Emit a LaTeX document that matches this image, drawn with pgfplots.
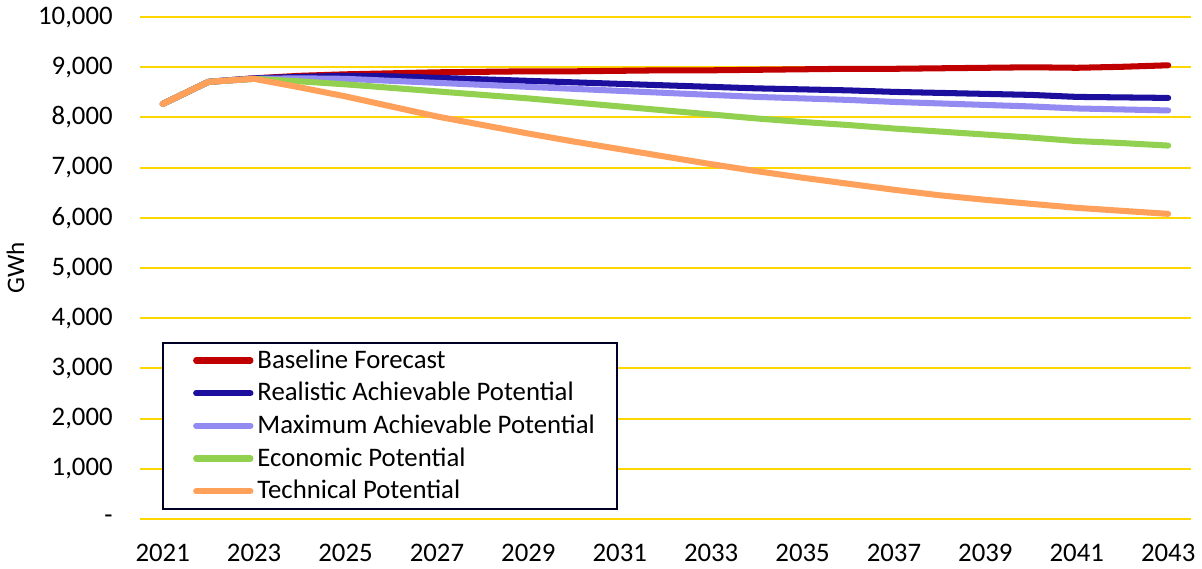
\documentclass[border=0pt]{standalone}
\usepackage{pgfplots}
\pgfplotsset{compat=1.18}
\usepackage{fontspec}
\setmainfont{Carlito}

\definecolor{baseRed}{HTML}{C00000}
\definecolor{realBlue}{HTML}{1C0F9E}
\definecolor{maxPurple}{HTML}{948BF2}
\definecolor{econGreen}{HTML}{92D050}
\definecolor{techOrange}{HTML}{FFA15A}
\definecolor{gridGold}{HTML}{FFD700}

\begin{document}
\begin{tikzpicture}
\begin{axis}[
    scale only axis,
    width=522.5pt, height=249.5pt,
    xmin=2020.5, xmax=2043.5,
    ymin=0, ymax=10000,
    axis line style={draw=none},
    ymajorgrids,
    grid style={gridGold, line width=1pt},
    major tick length=0pt,
    scaled y ticks=false,
    xtick={2021,2023,...,2043},
    ytick={0,1000,...,10000},
    yticklabels={-,{1,000},{2,000},{3,000},{4,000},{5,000},{6,000},{7,000},{8,000},{9,000},{10,000}},
    x tick label style={/pgf/number format/1000 sep={}, /pgf/number format/assume math mode=true, yshift=-9pt},
    y tick label style={xshift=-10pt},
    tick label style={font=\fontsize{13.3}{15}\selectfont},
    ylabel={GWh},
    ylabel style={font=\fontsize{12.5}{14}\selectfont, yshift=0pt},
    legend style={at={(0.021,0.018)}, anchor=south west,
        draw=black!85!blue, line width=1pt,
        font=\fontsize{13.3}{15}\selectfont,
        inner xsep=9pt, inner ysep=1.5pt,
        row sep=1.5pt,
        cells={anchor=west}},
    legend image code/.code={\path (0pt,0pt); \draw[#1, line width=3pt, line cap=round] (6pt,0pt) -- (33pt,0pt);},
    every axis plot/.append style={line width=3pt, line join=round, line cap=round},
]
\addplot[baseRed] coordinates {
(2021,8270) (2022,8710) (2023,8780) (2024,8830) (2025,8860) (2026,8880)
(2027,8900) (2028,8910) (2029,8920) (2030,8920) (2031,8930) (2032,8940)
(2033,8940) (2034,8950) (2035,8960) (2036,8970) (2037,8970) (2038,8980)
(2039,8990) (2040,9000) (2041,8990) (2042,9010) (2043,9040)};
\addlegendentry{Baseline Forecast}
\addplot[realBlue] coordinates {
(2021,8270) (2022,8710) (2023,8780) (2024,8810) (2025,8830) (2026,8820)
(2027,8790) (2028,8760) (2029,8730) (2030,8700) (2031,8670) (2032,8640)
(2033,8610) (2034,8580) (2035,8560) (2036,8540) (2037,8510) (2038,8490)
(2039,8470) (2040,8450) (2041,8410) (2042,8400) (2043,8390)};
\addlegendentry{Realistic Achievable Potential}
\addplot[maxPurple] coordinates {
(2021,8270) (2022,8710) (2023,8770) (2024,8780) (2025,8770) (2026,8730)
(2027,8690) (2028,8650) (2029,8610) (2030,8570) (2031,8530) (2032,8490)
(2033,8450) (2034,8410) (2035,8380) (2036,8350) (2037,8310) (2038,8280)
(2039,8250) (2040,8220) (2041,8180) (2042,8160) (2043,8140)};
\addlegendentry{Maximum Achievable Potential}
\addplot[econGreen] coordinates {
(2021,8270) (2022,8710) (2023,8770) (2024,8720) (2025,8660) (2026,8590)
(2027,8520) (2028,8450) (2029,8380) (2030,8300) (2031,8220) (2032,8140)
(2033,8060) (2034,7980) (2035,7910) (2036,7850) (2037,7780) (2038,7720)
(2039,7660) (2040,7600) (2041,7530) (2042,7490) (2043,7440)};
\addlegendentry{Economic Potential}
\addplot[techOrange] coordinates {
(2021,8270) (2022,8710) (2023,8770) (2024,8600) (2025,8420) (2026,8220)
(2027,8020) (2028,7850) (2029,7680) (2030,7520) (2031,7370) (2032,7220)
(2033,7070) (2034,6930) (2035,6800) (2036,6680) (2037,6560) (2038,6450)
(2039,6360) (2040,6280) (2041,6200) (2042,6140) (2043,6080)};
\addlegendentry{Technical Potential}
\end{axis}
\end{tikzpicture}
\end{document}
